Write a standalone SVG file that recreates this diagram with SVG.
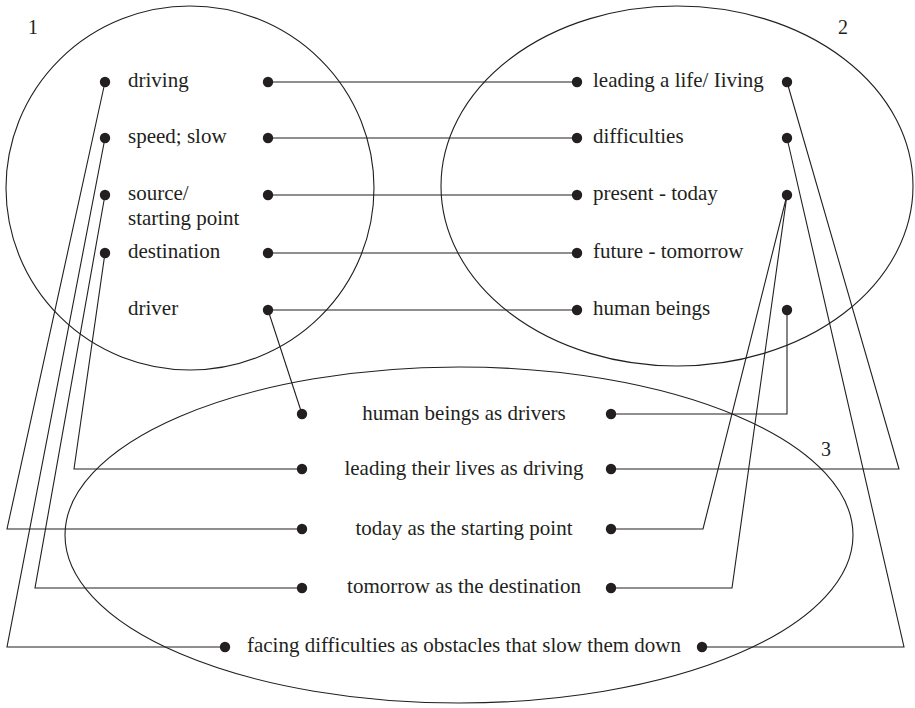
<svg xmlns="http://www.w3.org/2000/svg" width="915" height="708" viewBox="0 0 915 708">
  <style>
    .ring { fill: none; stroke: #231f20; stroke-width: 1.1; }
    .link { fill: none; stroke: #231f20; stroke-width: 1.1; stroke-linejoin: miter; }
    .dot { fill: #231f20; }
    text { font-family: "Liberation Serif", "Times New Roman", serif; font-size: 21px; fill: #231f20; }
    .mid { text-anchor: middle; }
    .num { font-size: 20px; }
  </style>
  <rect width="915" height="708" fill="#ffffff"/>

  <!-- domain ellipses -->
  <g id="domains">
    <ellipse class="ring" cx="190" cy="188" rx="184" ry="182"/>
    <ellipse class="ring" cx="677" cy="186" rx="236" ry="180"/>
    <ellipse class="ring" cx="459" cy="535" rx="394" ry="168"/>
    <text class="num" x="28" y="34">1</text>
    <text class="num" x="838" y="34">2</text>
    <text class="num" x="821" y="456">3</text>
  </g>

  <!-- connectors -->
  <g id="connectors">
    <!-- source domain to target domain -->
    <polyline class="link" points="268,82 577,82"/>
    <polyline class="link" points="268,138 577,138"/>
    <polyline class="link" points="268,195 577,195"/>
    <polyline class="link" points="268,253 577,253"/>
    <polyline class="link" points="268,310 577,310"/>
    <polyline class="link" points="268,310 302,414"/>
    <!-- left side into blend -->
    <polyline class="link" points="105,82 7,529 302,529"/>
    <polyline class="link" points="105,138 7,647 225,647"/>
    <polyline class="link" points="105,195 35,588 302,588"/>
    <polyline class="link" points="105,253 74,469 302,469"/>
    <!-- right side into blend -->
    <polyline class="link" points="787,82 899,469 611,469"/>
    <polyline class="link" points="787,138 904,647 702,647"/>
    <polyline class="link" points="787,195 703,529 611,529"/>
    <polyline class="link" points="787,195 732,588 611,588"/>
    <polyline class="link" points="787,310 787,414 611,414"/>
  </g>

  <!-- domain 1 -->
  <g id="n-driving">
    <circle class="dot" cx="105" cy="82" r="5.2"/>
    <circle class="dot" cx="268" cy="82" r="5.2"/>
    <text x="128" y="86.5">driving</text>
  </g>
  <g id="n-speed">
    <circle class="dot" cx="105" cy="138" r="5.2"/>
    <circle class="dot" cx="268" cy="138" r="5.2"/>
    <text x="128" y="142.5">speed; slow</text>
  </g>
  <g id="n-source">
    <circle class="dot" cx="105" cy="195" r="5.2"/>
    <circle class="dot" cx="268" cy="195" r="5.2"/>
    <text x="128" y="199.5">source/</text>
    <text x="128" y="225">starting point</text>
  </g>
  <g id="n-destination">
    <circle class="dot" cx="105" cy="253" r="5.2"/>
    <circle class="dot" cx="268" cy="253" r="5.2"/>
    <text x="128" y="257.5">destination</text>
  </g>
  <g id="n-driver">
    <circle class="dot" cx="268" cy="310" r="5.2"/>
    <text x="128" y="314.5">driver</text>
  </g>

  <!-- domain 2 -->
  <g id="n-living">
    <circle class="dot" cx="577" cy="82" r="5.2"/>
    <circle class="dot" cx="787" cy="82" r="5.2"/>
    <text x="593" y="86.5">leading a life/ Iiving</text>
  </g>
  <g id="n-difficulties">
    <circle class="dot" cx="577" cy="138" r="5.2"/>
    <circle class="dot" cx="787" cy="138" r="5.2"/>
    <text x="593" y="142.5">difficulties</text>
  </g>
  <g id="n-present">
    <circle class="dot" cx="577" cy="195" r="5.2"/>
    <circle class="dot" cx="787" cy="195" r="5.2"/>
    <text x="593" y="199.5">present - today</text>
  </g>
  <g id="n-future">
    <circle class="dot" cx="577" cy="253" r="5.2"/>
    <text x="593" y="257.5">future - tomorrow</text>
  </g>
  <g id="n-humans">
    <circle class="dot" cx="577" cy="310" r="5.2"/>
    <circle class="dot" cx="787" cy="310" r="5.2"/>
    <text x="593" y="314.5">human beings</text>
  </g>

  <!-- blend -->
  <g id="b-drivers">
    <circle class="dot" cx="302" cy="414" r="5.2"/>
    <circle class="dot" cx="611" cy="414" r="5.2"/>
    <text class="mid" x="464" y="419.5">human beings as drivers</text>
  </g>
  <g id="b-lives">
    <circle class="dot" cx="302" cy="469" r="5.2"/>
    <circle class="dot" cx="611" cy="469" r="5.2"/>
    <text class="mid" x="464" y="474.5">leading their lives as driving</text>
  </g>
  <g id="b-today">
    <circle class="dot" cx="302" cy="529" r="5.2"/>
    <circle class="dot" cx="611" cy="529" r="5.2"/>
    <text class="mid" x="464" y="534.5">today as the starting point</text>
  </g>
  <g id="b-tomorrow">
    <circle class="dot" cx="302" cy="588" r="5.2"/>
    <circle class="dot" cx="611" cy="588" r="5.2"/>
    <text class="mid" x="464" y="593">tomorrow as the destination</text>
  </g>
  <g id="b-obstacles">
    <circle class="dot" cx="225" cy="647" r="5.2"/>
    <circle class="dot" cx="702" cy="647" r="5.2"/>
    <text class="mid" x="464" y="652">facing difficulties as obstacles that slow them down</text>
  </g>
</svg>
